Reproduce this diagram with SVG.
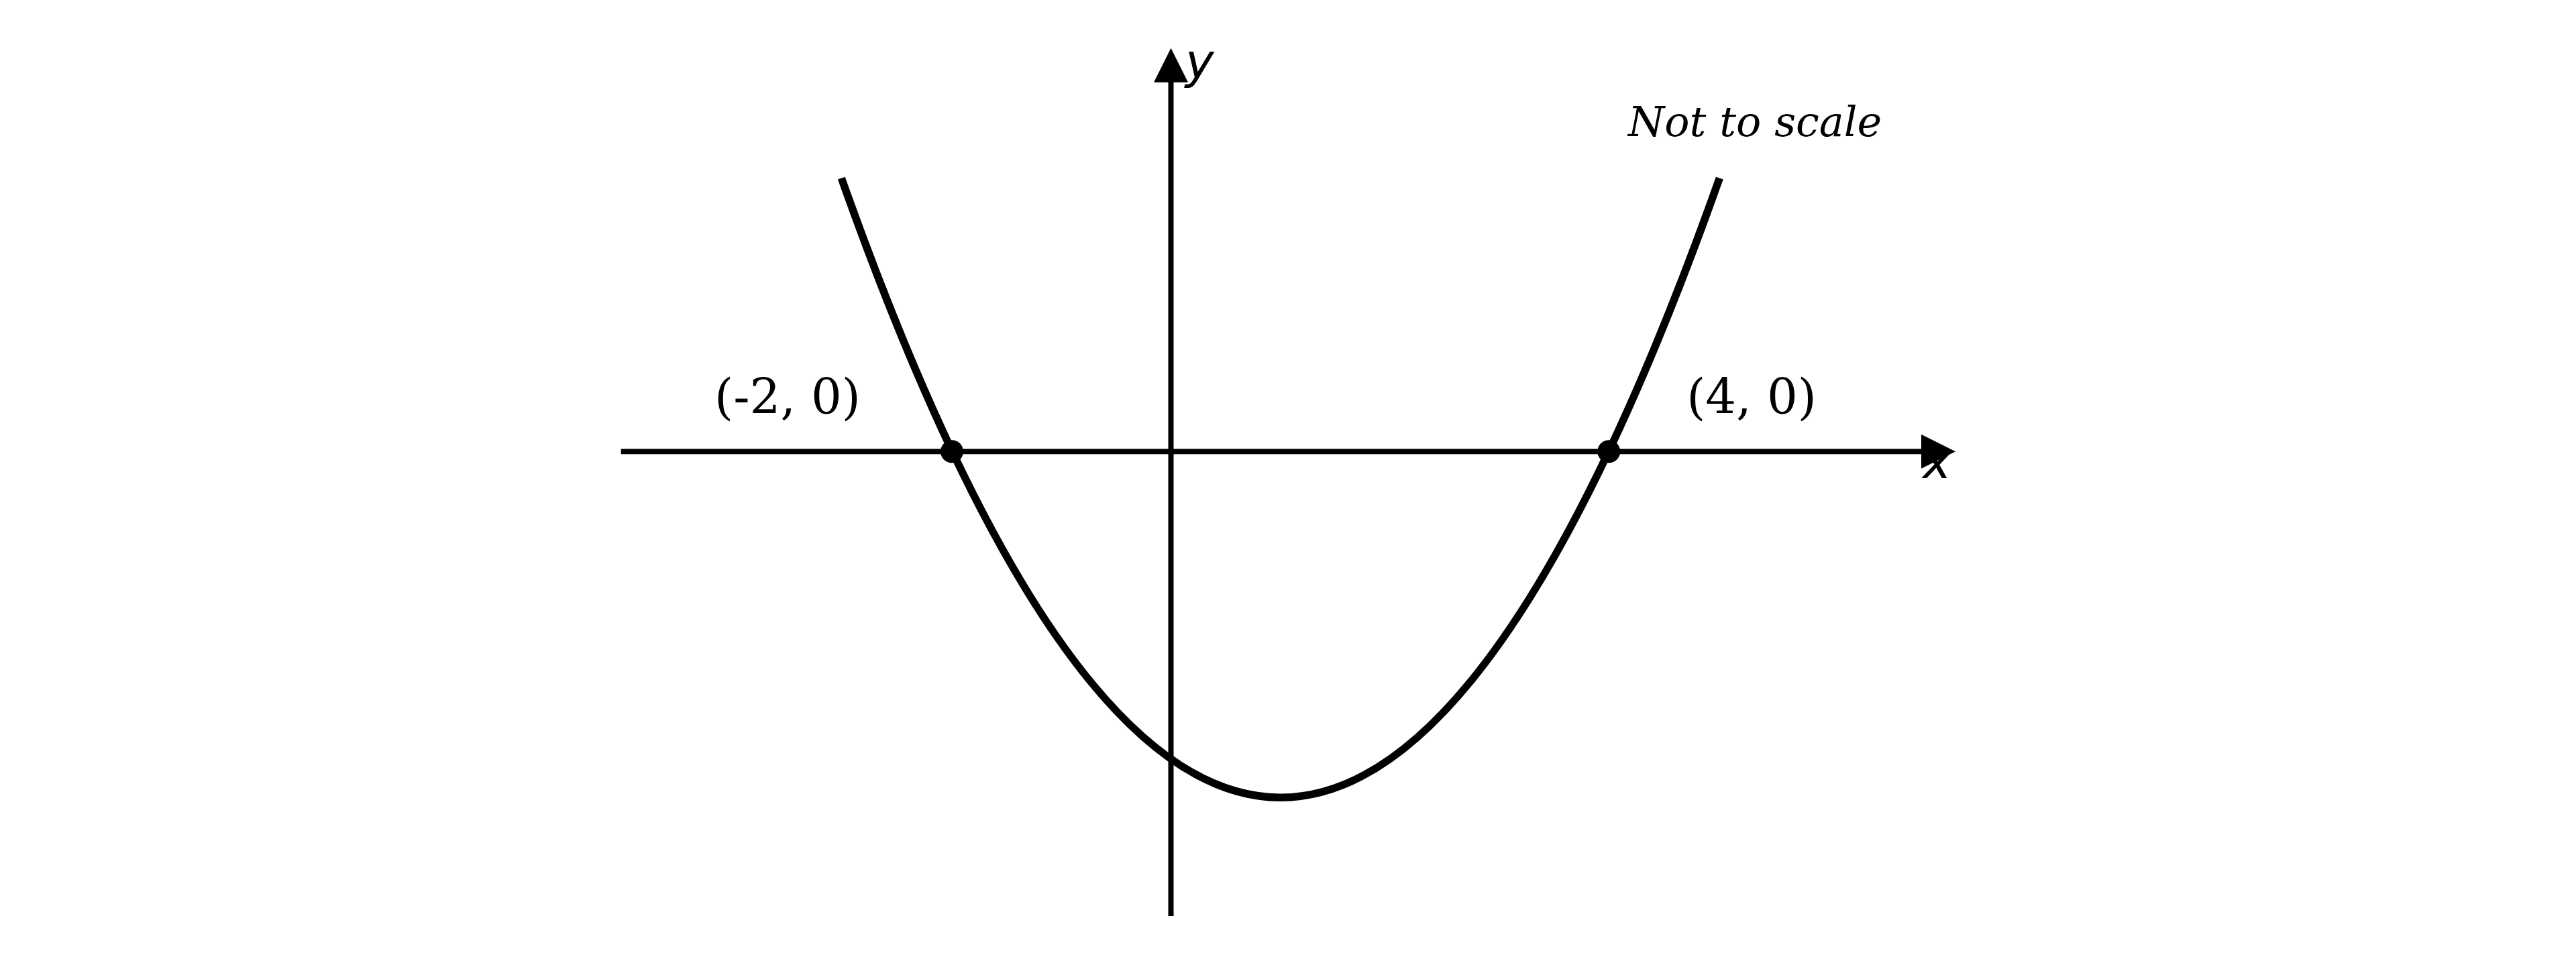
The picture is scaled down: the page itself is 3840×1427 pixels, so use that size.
<svg xmlns="http://www.w3.org/2000/svg" width="3840" height="1427" viewBox="0 0 3840 1427">
  <style>
    .axis { stroke: #000; stroke-width: 8; fill: none; }
    .curve { stroke: #000; stroke-width: 11.5; fill: none; }
    .head { fill: #000; }
    .dot { fill: #000; }
    .pt { font-family: "DejaVu Serif", "Liberation Serif", serif; font-size: 72px; fill: #000; }
    .note { font-family: "DejaVu Serif", "Liberation Serif", serif; font-style: italic; font-size: 62px; fill: #000; }
    .var { font-family: "DejaVu Sans", "Liberation Sans", sans-serif; font-style: italic; font-size: 72px; fill: #000; }
  </style>
  <rect width="3840" height="1427" fill="#fff"/>
  <g id="connectors">
    <g id="x-axis">
      <line class="axis" x1="925.7" y1="673.3" x2="2866" y2="673.3"/>
      <polygon class="head" points="2864,647.8 2864,698.8 2915,673.3"/>
    </g>
    <g id="y-axis">
      <line class="axis" x1="1745.5" y1="1366" x2="1745.5" y2="120"/>
      <polygon class="head" points="1720,122.7 1771,122.7 1745.5,71.7"/>
    </g>
  </g>
  <g id="parabola">
    <path class="curve" d="M1254.3,265.7 Q1908.8,2112.7 2563.3,265.7"/>
  </g>
  <g id="root-left">
    <circle class="dot" cx="1419" cy="673.3" r="17"/>
    <text class="pt" x="1174" y="617.3" text-anchor="middle">(-2, 0)</text>
  </g>
  <g id="root-right">
    <circle class="dot" cx="2398.3" cy="673.3" r="17"/>
    <text class="pt" x="2611" y="617.3" text-anchor="middle">(4, 0)</text>
  </g>
  <g id="labels">
    <text class="var" x="1767" y="116">y</text>
    <text class="var" x="2866" y="712.7">x</text>
    <text class="note" x="2427" y="203.3">Not to scale</text>
  </g>
</svg>
